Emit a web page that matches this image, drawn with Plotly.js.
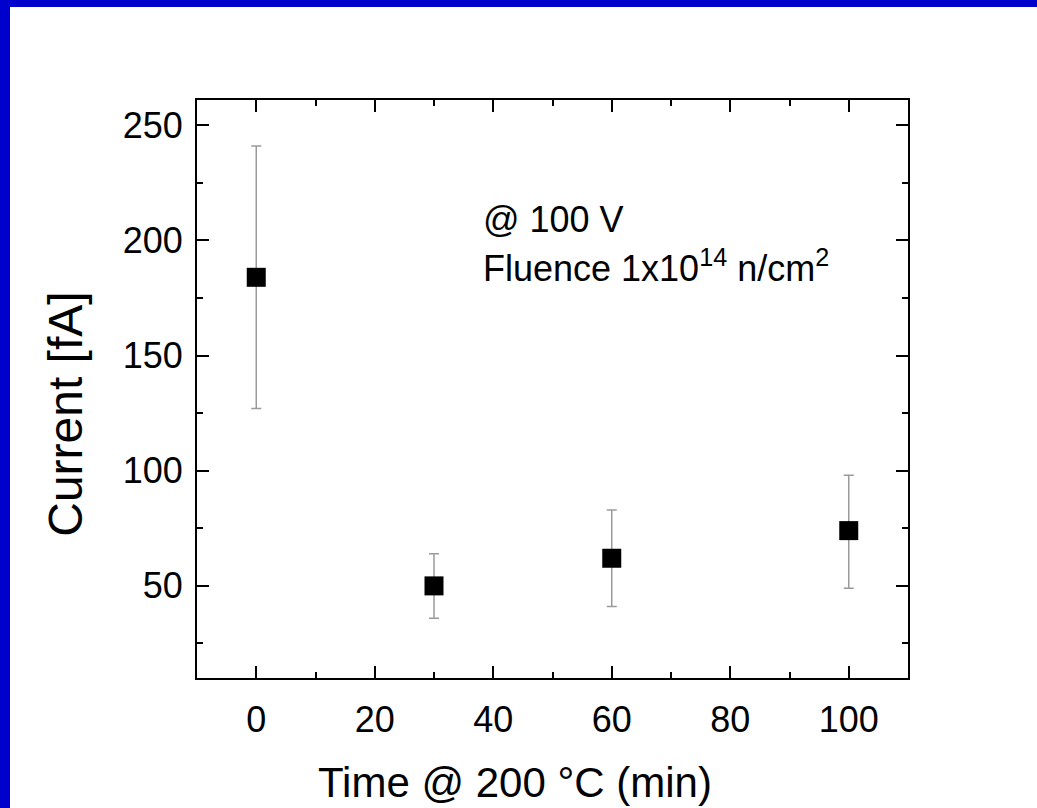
<!DOCTYPE html>
<html>
<head>
<meta charset="utf-8">
<script src="https://cdn.plot.ly/plotly-3.0.1.min.js"></script>
<style>
  html, body { margin: 0; padding: 0; width: 1037px; height: 808px; background: #0000CC; overflow: hidden; }
  #chart { position: absolute; left: 10px; top: 7px; width: 1027px; height: 801px; background: #fff; }
</style>
</head>
<body>
<div id="chart"></div>
<script>
// Data
const timeMin = [0, 30, 60, 100];
const currentFA = [184, 50, 62, 74];
const errPlus = [57, 14, 21, 24];
const errMinus = [57, 14, 21, 25];

const xTickVals = [0, 20, 40, 60, 80, 100];
const xTickText = ['0', '20', '40', '60', '80', '100'];
const yTickVals = [50, 100, 150, 200, 250];
const yTickText = ['50', '100', '150', '200', '250'];

const xTitle = 'Time @ 200 °C (min)';
const yTitle = 'Current [fA]';
const note1 = '@ 100 V';
const note2 = 'Fluence 1x10<sup>14</sup> n/cm<sup>2</sup>';

const FONT = 'Liberation Sans, Arial, sans-serif';

const trace = {
  x: timeMin,
  y: currentFA,
  type: 'scatter',
  mode: 'markers',
  marker: { symbol: 'square', size: 19, color: '#000' },
  error_y: {
    type: 'data', symmetric: false,
    array: errPlus, arrayminus: errMinus,
    color: '#9a9a9a', thickness: 1.5, width: 5
  },
  showlegend: false,
  hoverinfo: 'x+y'
};

const axisCommon = {
  showline: true, linecolor: '#000', linewidth: 2,
  mirror: 'allticks', ticks: 'inside', ticklen: 12, tickwidth: 2, tickcolor: '#000',
  showgrid: false, zeroline: false,
  tickfont: { family: FONT, size: 36, color: '#000' }
};

const layout = {
  width: 1027, height: 801,
  margin: { l: 187, r: 129, t: 93, b: 130 },
  paper_bgcolor: '#fff', plot_bgcolor: '#fff',
  xaxis: Object.assign({}, axisCommon, {
    range: [-10, 110], tickmode: 'array', tickvals: xTickVals, ticktext: xTickText,
    ticklabelstandoff: 9,
    minor: { dtick: 10, tick0: 0, ticks: 'inside', ticklen: 6, tickwidth: 2, tickcolor: '#000', showgrid: false }
  }),
  yaxis: Object.assign({}, axisCommon, {
    range: [10, 261], tickmode: 'array', tickvals: yTickVals, ticktext: yTickText,
    ticklabelstandoff: 5,
    minor: { dtick: 25, tick0: 0, ticks: 'inside', ticklen: 6, tickwidth: 2, tickcolor: '#000', showgrid: false }
  }),
  annotations: [
    { text: note1, xref: 'x', yref: 'y', x: 38, y: 209, xanchor: 'left', yanchor: 'middle',
      showarrow: false, font: { family: FONT, size: 36, color: '#000' } },
    { text: note2, xref: 'x', yref: 'y', x: 38, y: 189, xanchor: 'left', yanchor: 'middle',
      showarrow: false, font: { family: FONT, size: 36, color: '#000' } },
    { text: xTitle, xref: 'paper', yref: 'paper', x: 0.4466, y: -0.181, xanchor: 'center', yanchor: 'middle',
      showarrow: false, font: { family: FONT, size: 42, color: '#000' } },
    { text: yTitle, xref: 'paper', yref: 'paper', x: -0.186, y: 0.4567, xanchor: 'center', yanchor: 'middle',
      textangle: -90, showarrow: false, font: { family: FONT, size: 48, color: '#000' } }
  ]
};

Plotly.newPlot('chart', [trace], layout, { displayModeBar: false, staticPlot: true });
</script>
</body>
</html>
